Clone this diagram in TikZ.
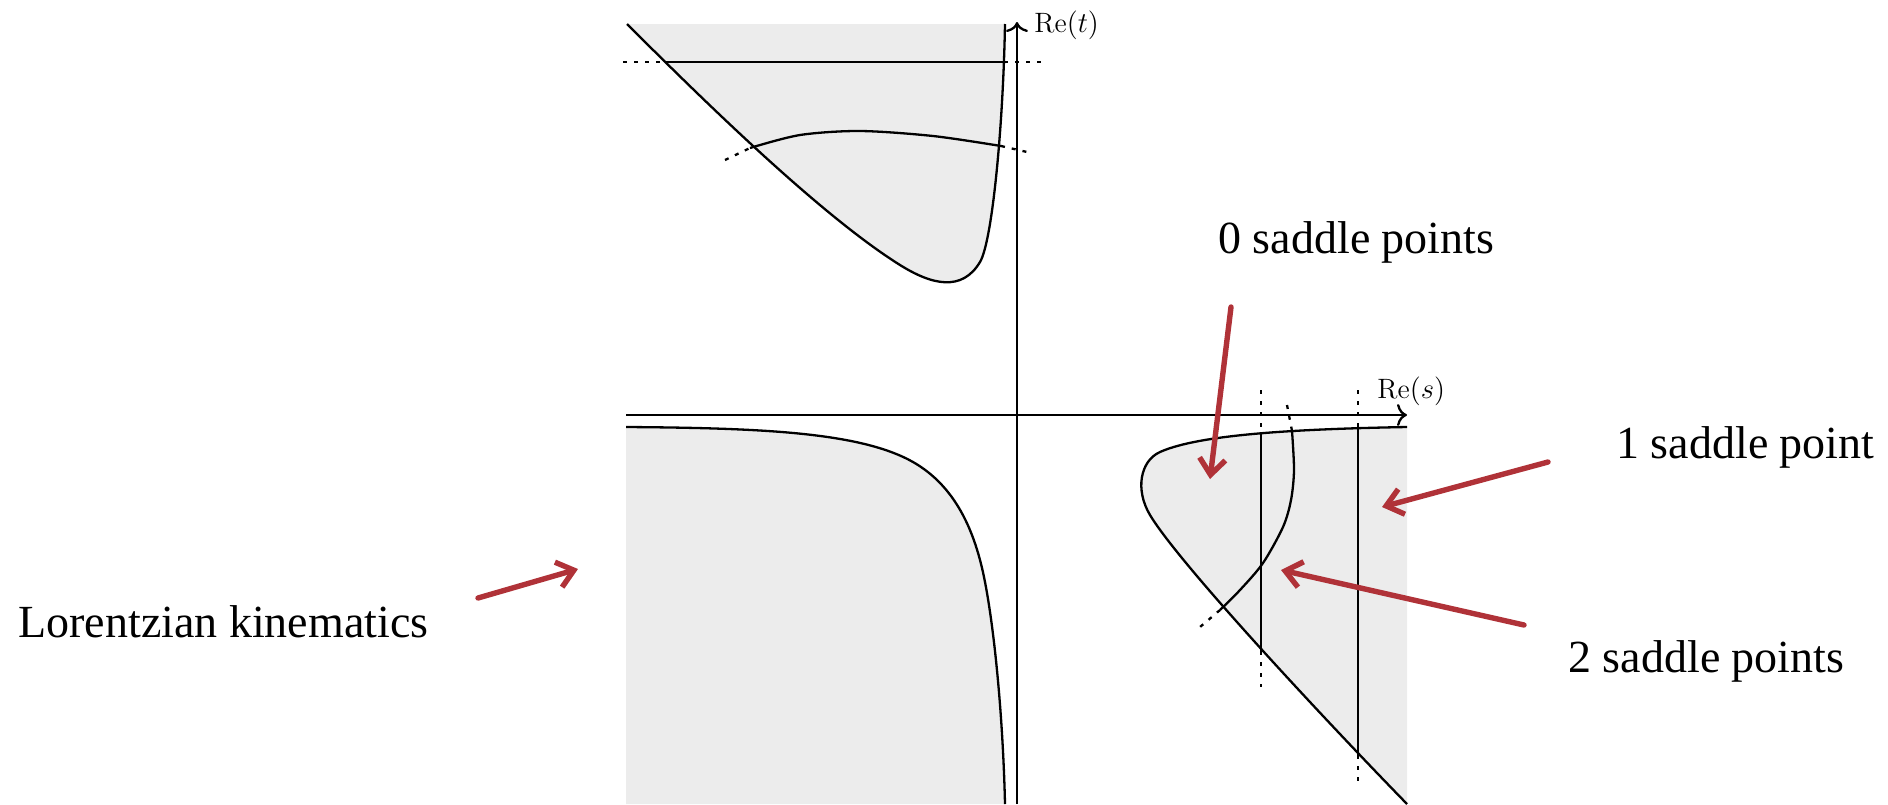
\documentclass[tikz,border=0pt]{standalone}
\usepackage{fontspec}
\usetikzlibrary{arrows.meta}
\newfontfamily\labfont{Liberation Serif}
\definecolor{regionfill}{RGB}{236,236,236}
\definecolor{arrowred}{RGB}{176,50,56}
\tikzset{
  curve/.style={line width=1.15pt, black},
  axisline/.style={line width=1.15pt, black, -{To[length=5pt,width=11pt]}},
  dotline/.style={line width=1.15pt, black, dash pattern=on 2pt off 3.5pt},
  redarrow/.style={line width=2.7pt, arrowred, line cap=round, line join=round, -{Straight Barb[length=8pt,width=13pt]}},
  biglabel/.style={inner sep=0pt, font=\labfont\fontsize{23}{27}\selectfont, anchor=base west},
  axislabel/.style={inner sep=0pt, font=\fontsize{14}{17}\selectfont, anchor=base west}
}
\begin{document}
\begin{tikzpicture}[x=0.5pt, y=-0.5pt]
\useasboundingbox (0,0) rectangle (1888,804);

% ---------- fills ----------
\fill[regionfill] (627,24) .. controls (700,97) and (820,215) .. (900,265)
   .. controls (932,285) and (962,292) .. (980,262)
   .. controls (992,242) and (1003,130) .. (1005,24) -- cycle;
\fill[regionfill] (626,427) .. controls (760,428) and (860,432) .. (913,462)
   .. controls (955,486) and (975,530) .. (985,582)
   .. controls (995,634) and (1003,720) .. (1005,804) -- (626,804) -- cycle;
\fill[regionfill] (1407,427) .. controls (1300,429) and (1200,434) .. (1160,452)
   .. controls (1140,461) and (1135,490) .. (1150,515)
   .. controls (1180,565) and (1330,725) .. (1407,804) -- cycle;

% ---------- boundary curves ----------
\draw[curve] (627,24) .. controls (700,97) and (820,215) .. (900,265)
   .. controls (932,285) and (962,292) .. (980,262)
   .. controls (992,242) and (1003,130) .. (1005,24);
\draw[curve] (626,427) .. controls (760,428) and (860,432) .. (913,462)
   .. controls (955,486) and (975,530) .. (985,582)
   .. controls (995,634) and (1003,720) .. (1005,804);
\draw[curve] (1407,427) .. controls (1300,429) and (1200,434) .. (1160,452)
   .. controls (1140,461) and (1135,490) .. (1150,515)
   .. controls (1180,565) and (1330,725) .. (1407,804);

% ---------- contours in upper-left region ----------
\coordinate (hL) at (665,62);
\coordinate (hR) at (1004,62);
\coordinate (hLd) at (623,62);
\coordinate (hRd) at (1042,62);
\draw[curve] (hL) -- (hR);
\draw[dotline] (hLd) -- (hL);
\draw[dotline] (hR) -- (hRd);
\coordinate (cL) at (750,148);
\coordinate (cR) at (1001,146);
\coordinate (cLd) at (725,160);
\coordinate (cRd) at (1027,152);
\draw[curve] plot[smooth] coordinates {(750,148) (800,135) (860,131) (933,136) (1001,146)};
\draw[dotline] (cLd) -- (cL);
\draw[dotline] (cR) -- (cRd);

% ---------- contours in lower-right region ----------
\coordinate (v1t) at (1261,433);
\coordinate (v1b) at (1261,651);
\coordinate (v1td) at (1261,390);
\coordinate (v1bd) at (1261,687);
\draw[curve] (v1t) -- (v1b);
\draw[dotline] (v1td) -- (v1t);
\draw[dotline] (v1b) -- (v1bd);
\coordinate (v2t) at (1358,429);
\coordinate (v2b) at (1358,755);
\coordinate (v2td) at (1358,390);
\coordinate (v2bd) at (1358,783);
\draw[curve] (v2t) -- (v2b);
\draw[dotline] (v2td) -- (v2t);
\draw[dotline] (v2b) -- (v2bd);
\coordinate (wt) at (1292,431);
\coordinate (wb) at (1220,610);
\coordinate (wtd) at (1287,405);
\coordinate (wbd) at (1200,627);
\draw[curve] plot[smooth] coordinates {(1292,431) (1294,470) (1291,500) (1283,527) (1263,563) (1240,590) (1220,610)};
\draw[dotline] (wtd) -- (wt);
\draw[dotline] (wb) -- (wbd);

% ---------- axes ----------
\coordinate (xs) at (626,415);
\coordinate (xe) at (1407,415);
\coordinate (ys) at (1017,804);
\coordinate (ye) at (1017,22);
\draw[axisline] (xs) -- (xe);
\draw[axisline] (ys) -- (ye);
\node[axislabel] (ret) at (1034,32) {$\mathrm{Re}(t)$};
\node[axislabel] (res) at (1377,398) {$\mathrm{Re}(s)$};

% ---------- labels ----------
\node[biglabel] (zero) at (1218,253) {0 saddle points};
\node[biglabel] (one) at (1616,458) {1 saddle point};
\node[biglabel] (two) at (1568,672) {2 saddle points};
\node[biglabel] (lor) at (18,637) {Lorentzian kinematics};

% ---------- red arrows ----------
\coordinate (a0s) at (1231,307);
\coordinate (a0e) at (1210,479);
\coordinate (a1s) at (1548,462);
\coordinate (a1e) at (1382,507);
\coordinate (a2s) at (1524,625);
\coordinate (a2e) at (1281,570);
\coordinate (a3s) at (478,598);
\coordinate (a3e) at (578,569);
\draw[redarrow] (a0s) -- (a0e);
\draw[redarrow] (a1s) -- (a1e);
\draw[redarrow] (a2s) -- (a2e);
\draw[redarrow] (a3s) -- (a3e);
\end{tikzpicture}
\end{document}
